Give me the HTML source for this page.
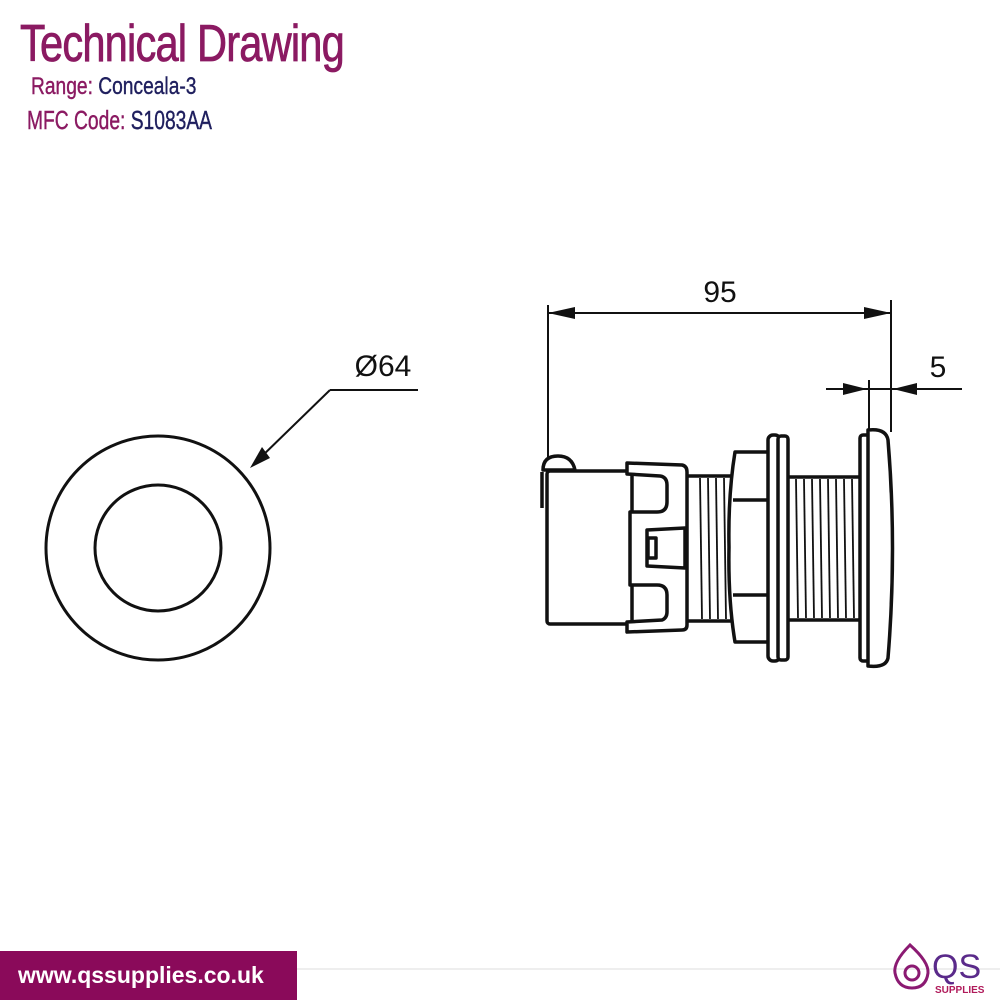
<!DOCTYPE html>
<html><head><meta charset="utf-8"><style>
html,body{margin:0;padding:0;background:#fff;width:1000px;height:1000px;overflow:hidden;position:relative}
.t{position:absolute;font-family:"Liberation Sans Narrow","Liberation Sans",sans-serif;white-space:nowrap}
</style></head><body>
<div class="t" style="left:20px;top:14px;font-size:52px;color:#8b1a62;transform:scaleX(0.80);transform-origin:left;letter-spacing:-1px;-webkit-text-stroke:0.8px #8b1a62">Technical Drawing</div>
<div class="t" style="left:31px;top:73px;font-size:24px;color:#8b1a62;transform:scaleX(0.80);transform-origin:left;-webkit-text-stroke:0.4px"><span>Range: </span><span style="color:#1f1f5e">Conceala-3</span></div>
<div class="t" style="left:27px;top:105px;font-size:26px;color:#8b1a62;transform:scaleX(0.74);transform-origin:left;-webkit-text-stroke:0.4px"><span>MFC Code: </span><span style="color:#1f1f5e">S1083AA</span></div>

<svg width="1000" height="1000" style="position:absolute;left:0;top:0" xmlns="http://www.w3.org/2000/svg">
<g fill="none" stroke="#111" stroke-width="3">
<circle cx="158" cy="548" r="112"/>
<circle cx="158" cy="548" r="63"/>
</g>
<g stroke="#111" stroke-width="2" fill="none">
<line x1="258" y1="460" x2="330" y2="390"/>
<line x1="330" y1="390" x2="418" y2="390"/>
<line x1="548" y1="305" x2="548" y2="458"/>
<line x1="891" y1="300" x2="891" y2="432"/>
<line x1="548" y1="313" x2="891" y2="313"/>
<line x1="869" y1="380" x2="869" y2="430"/>
<line x1="826" y1="389" x2="962" y2="389"/>
</g>
<g fill="#111">
<polygon points="250,468 262,447 270,458"/>
<polygon points="548,313 575,307 575,319"/>
<polygon points="891,313 864,307 864,319"/>
<polygon points="867,389 843,383 843,395"/>
<polygon points="893,389 917,383 917,395"/>
</g>
<text x="383" y="376" font-family="Liberation Sans,sans-serif" font-size="30" text-anchor="middle" fill="#111">Ø64</text>
<text x="720" y="302" font-family="Liberation Sans,sans-serif" font-size="30" text-anchor="middle" fill="#111">95</text>
<text x="938" y="377" font-family="Liberation Sans,sans-serif" font-size="30" text-anchor="middle" fill="#111">5</text>

<g fill="#fff" stroke="#111" stroke-width="3.5" stroke-linejoin="round">
<rect x="684" y="476" width="48" height="145"/>
<rect x="786" y="477" width="76" height="143"/>
<path d="M543,470 Q543,456 558,456 Q572,456 575,470 Z"/>
<path d="M542,472 L542,508" />
<rect x="547" y="471" width="85" height="153" rx="3"/>
<path d="M627,463 L682,465 Q687,466 687,472 L687,625 Q687,630 682,630 L627,632 L627,622 L662,620 Q667,618 667,612 L667,595 Q667,585 657,585 L630,585 L630,512 L657,512 Q667,512 667,502 L667,485 Q667,477 660,476 L627,474 Z"/>
<path d="M647,530 L685,528 L685,568 L647,566 Z"/>
<rect x="648" y="538" width="8" height="20"/>
<path d="M735,452 L770,452 L770,642 L735,642 Q728,600 729,547 Q728,495 735,452 Z"/>
<line x1="733" y1="500" x2="770" y2="500"/>
<line x1="733" y1="595" x2="770" y2="595"/>
<rect x="768" y="435" width="12" height="226" rx="5"/>
<rect x="778" y="436" width="10" height="224" rx="3"/>
<rect x="860" y="435" width="10" height="226" rx="3"/>
<path d="M868,430 Q886,428 888,440 Q897,548 888,658 Q886,668 868,666 Z"/>
</g>
<g stroke="#111" stroke-width="1.8">
<line x1="700" y1="478" x2="702" y2="619"/><line x1="708" y1="478" x2="710" y2="619"/><line x1="716" y1="478" x2="718" y2="619"/><line x1="724" y1="478" x2="726" y2="619"/>
<line x1="796" y1="479" x2="798" y2="618"/><line x1="804" y1="479" x2="806" y2="618"/><line x1="812" y1="479" x2="814" y2="618"/><line x1="820" y1="479" x2="822" y2="618"/><line x1="828" y1="479" x2="830" y2="618"/><line x1="836" y1="479" x2="838" y2="618"/><line x1="844" y1="479" x2="846" y2="618"/><line x1="852" y1="479" x2="854" y2="618"/>
</g>
<line x1="297" y1="969" x2="1000" y2="969" stroke="#eee" stroke-width="2"/>
<rect x="0" y="951" width="297" height="49" fill="#8a0a5a"/>
<text x="18" y="983" font-family="Liberation Sans,sans-serif" font-weight="bold" font-size="23" fill="#fff">www.qssupplies.co.uk</text>
<g fill="none" stroke="#8b1a72" stroke-width="3">
<path d="M910,945 Q893,962 895,973 Q898,988 912,988 Q926,988 928,973 Q929,962 910,945 Z"/>
<circle cx="912" cy="973" r="7"/>
</g>
<text x="932" y="978" font-family="Liberation Sans,sans-serif" font-size="34" fill="#5a2a8a">QS</text>
<text x="935" y="993" font-family="Liberation Sans,sans-serif" font-weight="bold" font-size="10" fill="#b01a5a">SUPPLIES</text>
</svg>
</body></html>
